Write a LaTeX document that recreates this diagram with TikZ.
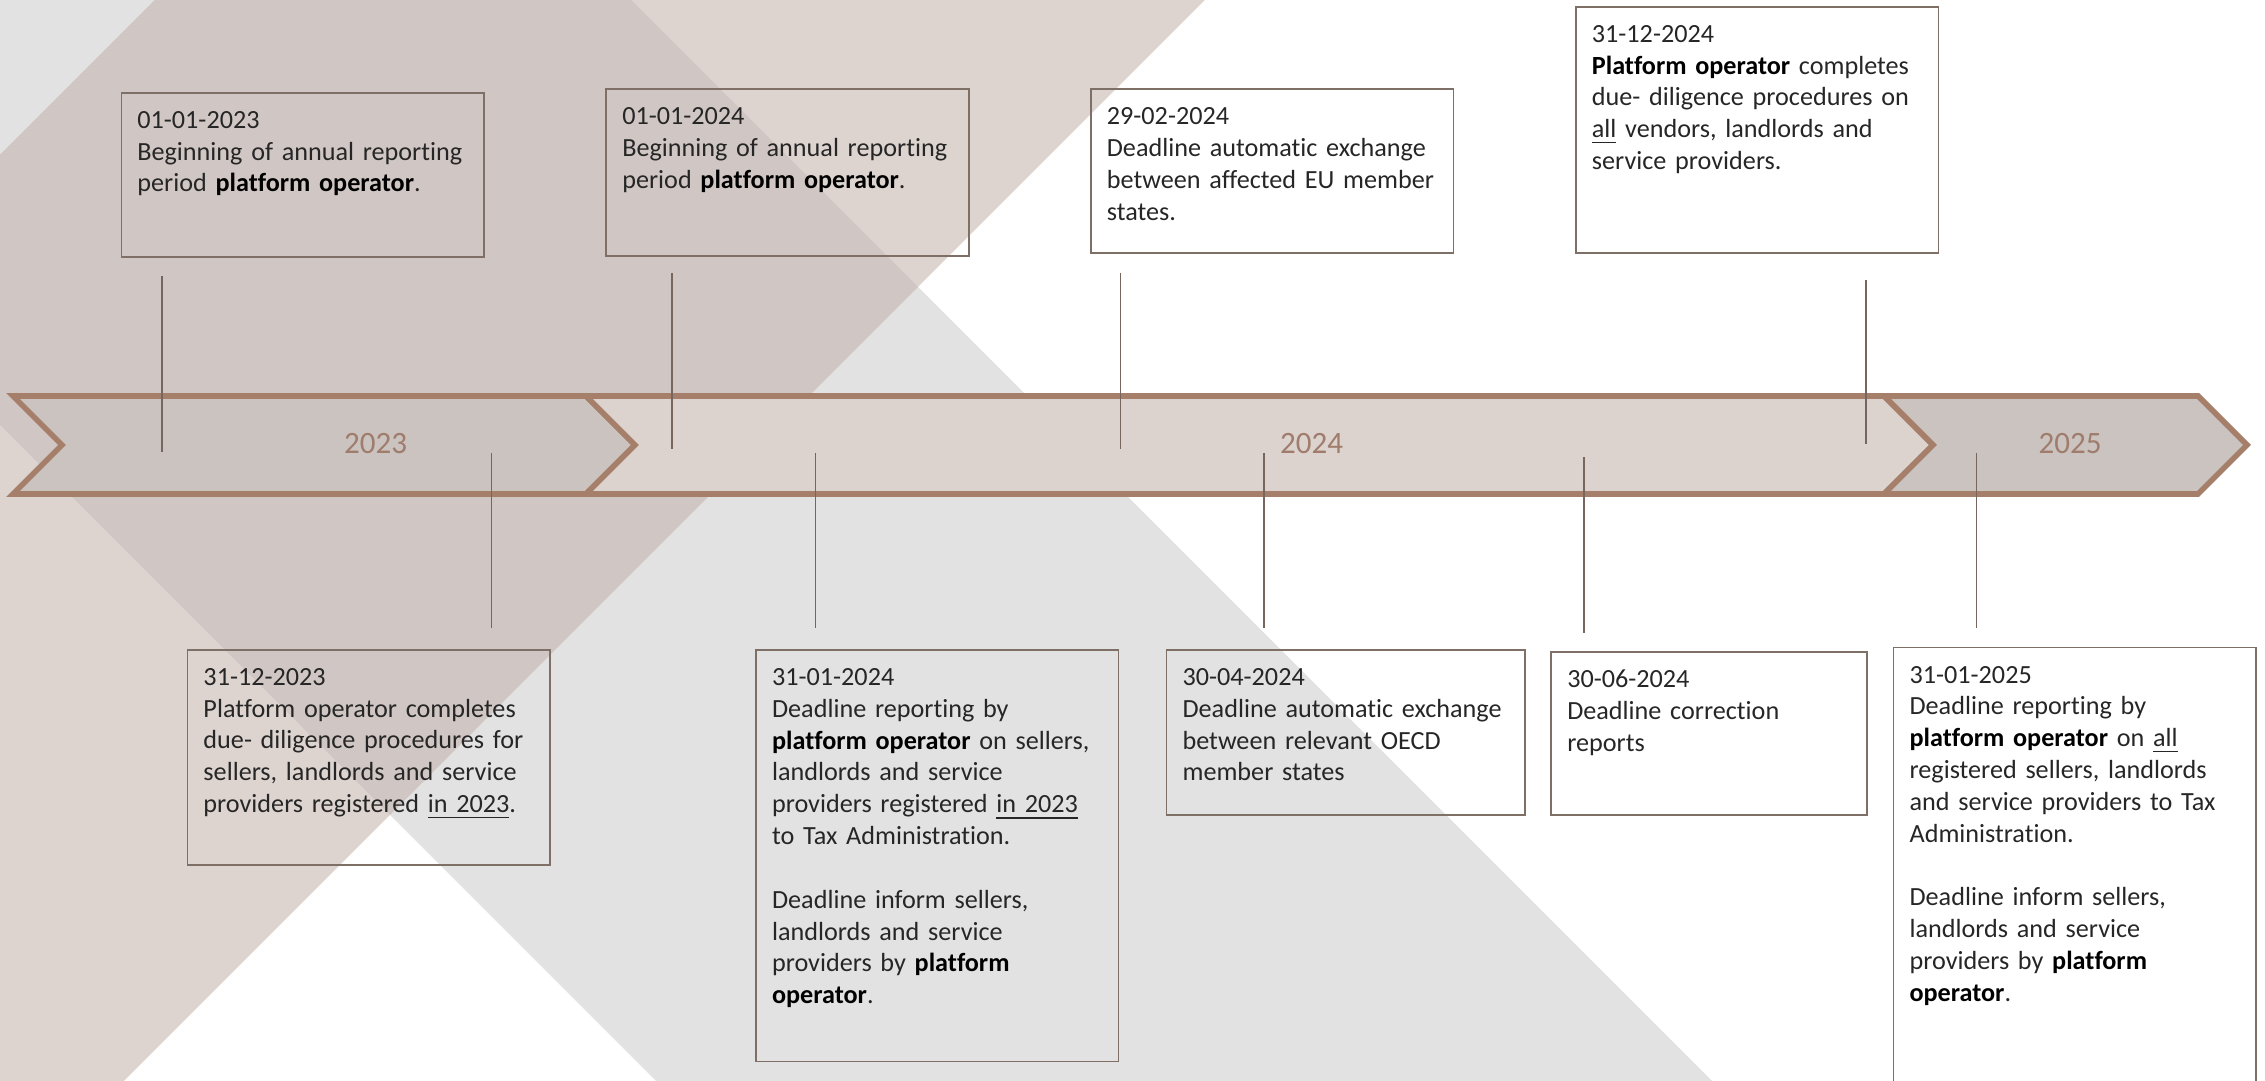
\documentclass[tikz,border=0pt]{standalone}
\usepackage{fontspec}
\setmainfont{Carlito}[Ligatures=CommonOff]
\usepackage{tikz}
\usetikzlibrary{calc}

\definecolor{bandgray}{HTML}{E2E2E2}
\definecolor{bandpink}{HTML}{DDD4D0}
\definecolor{bandmix}{HTML}{D0C7C4}
\definecolor{chevlight}{HTML}{DDD3CE}
\definecolor{chevdark}{HTML}{CBC3C0}
\definecolor{chevline}{HTML}{A67F6B}
\definecolor{yeartext}{HTML}{9F7C6B}
\definecolor{boxline}{HTML}{7E6F67}
\definecolor{tickline}{HTML}{76665E}

\tikzset{
    evbox/.style={draw=boxline, line width=0.5pt, anchor=north west, align=left,
        inner xsep=0.16cm, inner ysep=0.1cm, text height=0.255cm, text width=3.305cm,
        font=\fontsize{7.45pt}{9.05pt}\selectfont, text=black!85},
    tick/.style={draw=tickline, line width=0.5pt},
    chevron/.style={draw=chevline, line width=1.6pt, line join=miter},
    yearlabel/.style={font=\fontsize{8.84pt}{10pt}\selectfont, text=yeartext, inner sep=0pt}
}

\newcommand{\opbold}[1]{\textbf{\color{black}#1}}

\begin{document}
\begin{tikzpicture}[x=1cm,y=-1cm]

    \useasboundingbox (0,0) rectangle (22.65,10.81);
    \clip (0,0) rectangle (22.65,10.81);

    % Background bands
    \fill[bandgray] (-5.25,-1) -- (5.31,-1) -- (18.31,12) -- (7.75,12) -- cycle;
    \fill[bandpink] (2.55,-1) -- (13.05,-1) -- (0.05,12) -- (-10.45,12) -- cycle;
    \begin{scope}
        \clip (-5.25,-1) -- (5.31,-1) -- (18.31,12) -- (7.75,12) -- cycle;
        \fill[bandmix] (2.55,-1) -- (13.05,-1) -- (0.05,12) -- (-10.45,12) -- cycle;
    \end{scope}

    % Timeline chevrons
    \filldraw[chevron, fill=chevdark] (0.13,3.96) -- (5.86,3.96) -- (6.35,4.45) -- (5.86,4.94) -- (0.13,4.94) -- (0.62,4.45) -- cycle;
    \filldraw[chevron, fill=chevlight] (5.86,3.96) -- (18.84,3.96) -- (19.33,4.45) -- (18.84,4.94) -- (5.86,4.94) -- (6.35,4.45) -- cycle;
    \filldraw[chevron, fill=chevdark] (18.84,3.96) -- (21.98,3.96) -- (22.47,4.45) -- (21.98,4.94) -- (18.84,4.94) -- (19.33,4.45) -- cycle;

    % Year labels
    \node[yearlabel] (y2023) at (3.755,4.44) {2023};
    \node[yearlabel] (y2024) at (13.115,4.44) {2024};
    \node[yearlabel] (y2025) at (20.70,4.44) {2025};

    % Events above the timeline
    \node[evbox, text depth=1.185cm] (b1) at (1.205,0.92)
        {01-01-2023\\Beginning of annual reporting\\period \opbold{platform operator}.};
    \node[evbox, text depth=1.21cm] (b2) at (6.054,0.885)
        {01-01-2024\\Beginning of annual reporting\\period \opbold{platform operator}.};
    \node[evbox, text depth=1.184cm] (b3) at (10.90,0.885)
        {29-02-2024\\Deadline automatic exchange\\between affected EU member\\states.};
    \node[evbox, text depth=2.01cm] (b4) at (15.75,0.059)
        {31-12-2024\\\opbold{Platform operator} completes\\due- diligence procedures on\\\underline{all} vendors, landlords and\\service providers.};

    % Events below the timeline
    \node[evbox, text depth=1.699cm] (b5) at (1.866,6.49)
        {31-12-2023\\Platform operator completes\\due- diligence procedures for\\sellers, landlords and service\\providers registered \underline{in 2023}.};
    \node[evbox, text depth=3.659cm] (b6) at (7.552,6.492)
        {31-01-2024\\Deadline reporting by\\\opbold{platform operator} on sellers,\\landlords and service\\providers registered \underline{in 2023}\\to Tax Administration.\\[9.05pt]Deadline inform sellers,\\landlords and service\\providers by \opbold{platform}\\\opbold{operator}.};
    \node[evbox, text width=3.265cm, text depth=1.193cm] (b7) at (11.657,6.492)
        {30-04-2024\\Deadline automatic exchange\\between relevant OECD\\member states};
    \node[evbox, text width=2.838cm, text depth=1.173cm] (b8) at (15.504,6.512)
        {30-06-2024\\Deadline correction\\reports};
    \node[evbox, text depth=4.145cm] (b9) at (18.927,6.467)
        {31-01-2025\\Deadline reporting by\\\opbold{platform operator} on \underline{all}\\registered sellers, landlords\\and service providers to Tax\\Administration.\\[9.05pt]Deadline inform sellers,\\landlords and service\\providers by \opbold{platform}\\\opbold{operator}.};

    % Ticks between the boxes and the timeline
    \coordinate (t1) at (1.618,2.765);  \coordinate (t1e) at (1.618,4.52);
    \coordinate (t2) at (6.722,2.73);   \coordinate (t2e) at (6.722,4.487);
    \coordinate (t3) at (11.206,2.73);  \coordinate (t3e) at (11.206,4.487);
    \coordinate (t4) at (18.658,2.796); \coordinate (t4e) at (18.658,4.442);
    \draw[tick] (t1) -- (t1e);
    \draw[tick] (t2) -- (t2e);
    \draw[tick] (t3) -- (t3e);
    \draw[tick] (t4) -- (t4e);

    \coordinate (t5) at (4.914,4.53);   \coordinate (t5e) at (4.914,6.285);
    \coordinate (t6) at (8.155,4.53);   \coordinate (t6e) at (8.155,6.285);
    \coordinate (t7) at (12.64,4.53);   \coordinate (t7e) at (12.64,6.285);
    \coordinate (t8) at (15.838,4.573); \coordinate (t8e) at (15.838,6.33);
    \coordinate (t9) at (19.764,4.53);  \coordinate (t9e) at (19.764,6.285);
    \draw[tick] (t5) -- (t5e);
    \draw[tick] (t6) -- (t6e);
    \draw[tick] (t7) -- (t7e);
    \draw[tick] (t8) -- (t8e);
    \draw[tick] (t9) -- (t9e);

\end{tikzpicture}
\end{document}
